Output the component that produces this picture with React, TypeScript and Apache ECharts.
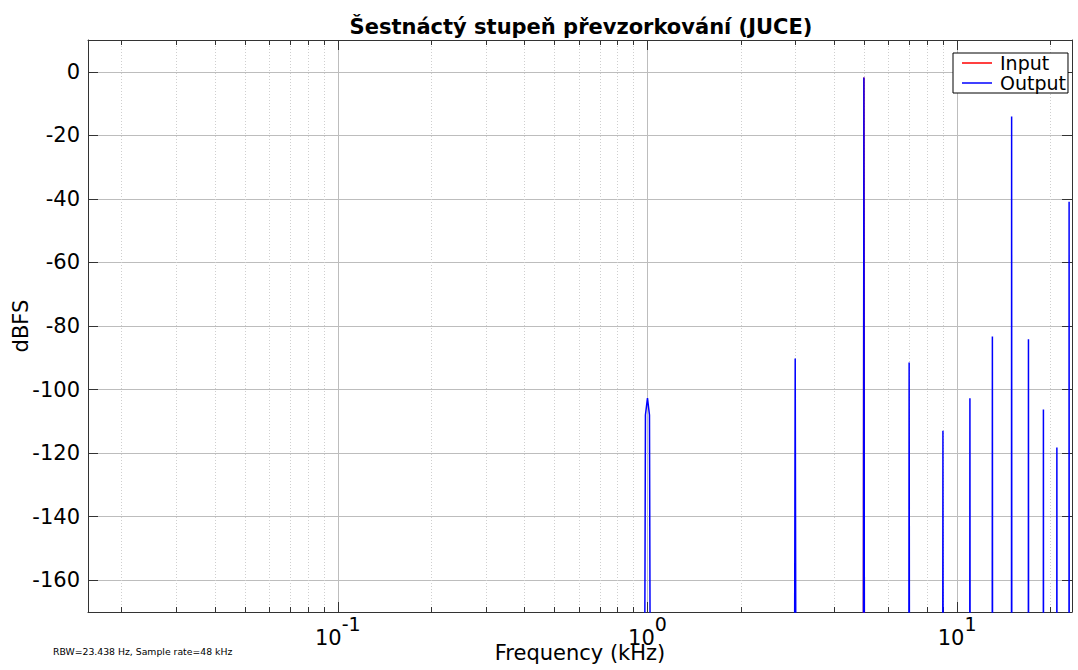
import React, { useEffect, useRef } from 'react';
import * as echarts from 'echarts';

const TITLE = 'Šestnáctý stupeň převzorkování (JUCE)';
const X_NAME = 'Frequency (kHz)';
const Y_NAME = 'dBFS';
const NOTE = 'RBW=23.438 Hz, Sample rate=48 kHz';

const X_MIN = 0.0156;
const X_MAX = 23.5;
const Y_MIN = -170;
const Y_MAX = 10;

// Input spectrum (kHz, dBFS)
const inputFreq = [4.9766, 5.0, 5.0234];
const inputDb = [-250, -1.8, -250];

// Output spectrum (kHz, dBFS)
const outputFreq = [
  0.9805, 0.985, 1.0, 1.015, 1.0195,
  2.9766, 3.0, 3.0234,
  4.9766, 5.0, 5.0234,
  6.9766, 7.0, 7.0234,
  8.9766, 9.0, 9.0234,
  10.9766, 11.0, 11.0234,
  12.9766, 13.0, 13.0234,
  14.9766, 15.0, 15.0234,
  16.9766, 17.0, 17.0234,
  18.9766, 19.0, 19.0234,
  20.9766, 21.0, 21.0234,
  22.9766, 23.0, 23.0234,
];
const outputDb = [
  -175, -108, -102.7, -108, -175,
  -250, -90.2, -250,
  -250, -1.8, -250,
  -250, -91.5, -250,
  -250, -113, -250,
  -250, -102.7, -250,
  -250, -83.3, -250,
  -250, -14.1, -250,
  -250, -84.2, -250,
  -250, -106.3, -250,
  -250, -118.2, -250,
  -250, -40.9, -250,
];

// minor (dotted) grid positions on the log frequency axis
const minorTickFreq = [
  0.02, 0.03, 0.04, 0.05, 0.06, 0.07, 0.08, 0.09,
  0.2, 0.3, 0.4, 0.5, 0.6, 0.7, 0.8, 0.9,
  2, 3, 4, 5, 6, 7, 8, 9,
  20,
];

const FONT = '"DejaVu Sans", Verdana, sans-serif';
const AXIS_COLOR = '#333333';

export default function App() {
  const ref = useRef<HTMLDivElement>(null);

  useEffect(() => {
    if (!ref.current) return;
    const chart = echarts.init(ref.current, null, { renderer: 'svg' });

    const expLabel = (v: number) => {
      const l = Math.log10(v);
      const e = Math.round(l);
      if (Math.abs(l - e) > 1e-6) return '';
      return `{b|10}{s|${e}}`;
    };

    const option: any = {
      animation: false,
      backgroundColor: '#ffffff',
      textStyle: { fontFamily: FONT },
      grid: { left: 88, right: 6, top: 40, bottom: 58, containLabel: false, outerBoundsMode: 'none' },
      legend: {
        right: 10,
        top: 53,
        orient: 'vertical',
        backgroundColor: '#ffffff',
        borderColor: '#000000',
        borderWidth: 1,
        borderRadius: 0,
        padding: [0, 2, 0, 9],
        itemGap: 0,
        itemWidth: 30,
        itemHeight: 1.5,
        textStyle: { fontFamily: FONT, fontSize: 19, lineHeight: 20, color: '#000', padding: [0, 0, 0, 3] },
        data: [
          { name: 'Input', icon: 'rect' },
          { name: 'Output', icon: 'rect' },
        ],
      },
      xAxis: [
        {
          type: 'log',
          logBase: 10,
          min: X_MIN,
          max: X_MAX,
          name: X_NAME,
          nameLocation: 'middle',
          nameGap: 30,
          nameMoveOverlap: false,
          nameTextStyle: { fontFamily: FONT, fontSize: 21, color: '#000' },
          axisLine: { show: true, onZero: false, lineStyle: { color: AXIS_COLOR, width: 1 } },
          axisTick: { show: true, inside: true, length: 10, lineStyle: { color: AXIS_COLOR } },
          axisLabel: {
            show: true,
            margin: 2,
            showMinLabel: false,
            showMaxLabel: false,
            formatter: expLabel,
            rich: {
              b: { fontFamily: FONT, fontSize: 21, color: '#000', lineHeight: 34, verticalAlign: 'bottom' },
              s: { fontFamily: FONT, fontSize: 19, color: '#000', verticalAlign: 'top' },
            },
          },
          splitLine: { show: true, lineStyle: { color: '#bdbdbd', width: 1 } },
        },
        {
          type: 'log',
          logBase: 10,
          min: X_MIN,
          max: X_MAX,
          position: 'top',
          axisLine: { show: true, onZero: false, lineStyle: { color: AXIS_COLOR, width: 1 } },
          axisTick: { show: true, inside: true, length: 10, lineStyle: { color: AXIS_COLOR } },
          axisLabel: { show: false },
          splitLine: { show: false },
        },
      ],
      yAxis: [
        {
          type: 'value',
          min: Y_MIN,
          max: Y_MAX,
          splitNumber: 9,
          name: Y_NAME,
          nameLocation: 'middle',
          nameGap: 57,
          nameMoveOverlap: false,
          nameTextStyle: { fontFamily: FONT, fontSize: 21, color: '#000' },
          axisLine: { show: true, onZero: false, lineStyle: { color: AXIS_COLOR, width: 1 } },
          axisTick: { show: true, inside: true, length: 10, lineStyle: { color: AXIS_COLOR } },
          axisLabel: {
            show: true,
            margin: 8,
            showMinLabel: false,
            showMaxLabel: false,
            fontFamily: FONT,
            fontSize: 21,
            color: '#000',
          },
          splitLine: { show: true, lineStyle: { color: '#bdbdbd', width: 1 } },
        },
        {
          type: 'value',
          min: Y_MIN,
          max: Y_MAX,
          splitNumber: 9,
          position: 'right',
          axisLine: { show: true, onZero: false, lineStyle: { color: AXIS_COLOR, width: 1 } },
          axisTick: { show: true, inside: true, length: 10, lineStyle: { color: AXIS_COLOR } },
          axisLabel: { show: false },
          splitLine: { show: false },
        },
      ],
      graphic: [
        {
          type: 'text',
          x: 581,
          y: 27,
          style: {
            text: TITLE,
            font: `bold 21px ${FONT}`,
            fill: '#000',
            textAlign: 'center',
            textVerticalAlign: 'middle',
          },
        },
        {
          type: 'text',
          x: 53,
          y: 651,
          style: {
            text: NOTE,
            font: `9.3px ${FONT}`,
            fill: '#000',
            textAlign: 'left',
            textVerticalAlign: 'middle',
          },
        },
      ],
      series: [
        {
          type: 'custom',
          name: 'minorGrid',
          silent: true,
          xAxisIndex: 0,
          yAxisIndex: 0,
          z: 1,
          data: minorTickFreq.map((f) => [f, Y_MIN]),
          renderItem: (params: any, api: any) => {
            const cs = params.coordSys;
            const x = Math.round(api.coord([api.value(0), Y_MIN])[0]) + 0.5;
            const top = cs.y;
            const bottom = cs.y + cs.height;
            return {
              type: 'group',
              children: [
                { type: 'line', shape: { x1: x, y1: top, x2: x, y2: bottom }, style: { stroke: '#cfcfcf', lineWidth: 1, lineDash: [1, 2] } },
                { type: 'line', shape: { x1: x, y1: bottom, x2: x, y2: bottom - 5 }, style: { stroke: AXIS_COLOR, lineWidth: 1 } },
                { type: 'line', shape: { x1: x, y1: top, x2: x, y2: top + 5 }, style: { stroke: AXIS_COLOR, lineWidth: 1 } },
              ],
            };
          },
        },
        {
          type: 'line',
          name: 'Input',
          xAxisIndex: 0,
          yAxisIndex: 0,
          showSymbol: false,
          symbol: 'none',
          clip: true,
          color: '#ff0000',
          lineStyle: { color: '#ff0000', width: 1.5 },
          data: inputFreq.map((f, i) => [f, inputDb[i]]),
          z: 3,
        },
        {
          type: 'line',
          name: 'Output',
          xAxisIndex: 0,
          yAxisIndex: 0,
          showSymbol: false,
          symbol: 'none',
          clip: true,
          color: '#0000ff',
          lineStyle: { color: '#0000ff', width: 1.5 },
          data: outputFreq.map((f, i) => [f, outputDb[i]]),
          z: 4,
        },
      ],
    };

    chart.setOption(option);
    return () => chart.dispose();
  }, []);

  return (
    <div
      ref={ref}
      style={{ position: 'fixed', left: 0, top: 0, width: 1078, height: 670, background: '#fff' }}
    />
  );
}
